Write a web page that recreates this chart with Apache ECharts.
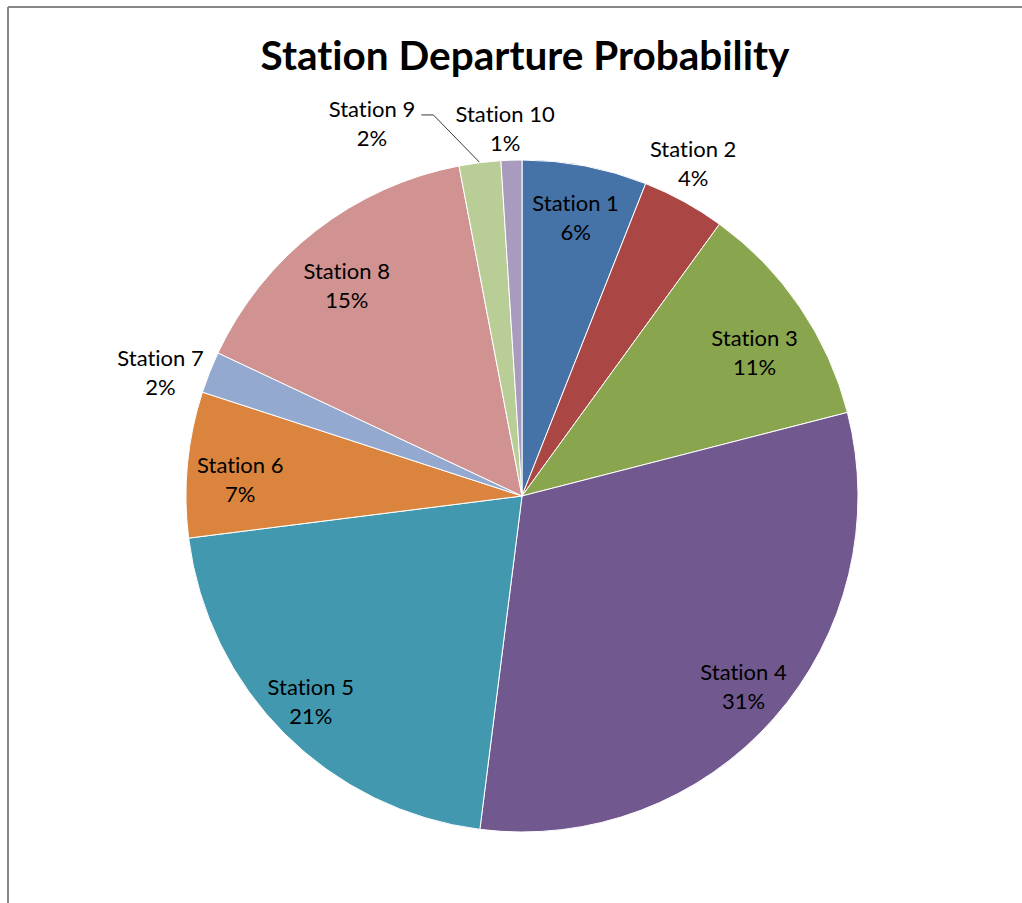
<!DOCTYPE html>
<html>
<head>
<meta charset="utf-8">
<title>Station Departure Probability</title>
<script src="https://cdn.jsdelivr.net/npm/echarts@6/dist/echarts.min.js"></script>
<style>
  html, body { margin: 0; padding: 0; background: #ffffff; }
  #chart { width: 1022px; height: 903px; }
  /* plain "ti" glyphs, no ligature */
  #chart svg text { font-variant-ligatures: none; font-feature-settings: "liga" 0, "clig" 0; }
</style>
</head>
<body>
<div id="chart"></div>
<script>
// Share of departures per station (percent)
const stations = ['Station 1', 'Station 2', 'Station 3', 'Station 4', 'Station 5',
                  'Station 6', 'Station 7', 'Station 8', 'Station 9', 'Station 10'];
const shares = [6, 4, 11, 31, 21, 7, 2, 15, 2, 1];
const sliceColors = ['#4572A7', '#AA4643', '#89A54E', '#71588F', '#4198AF',
                     '#DB843D', '#93A9CF', '#D19392', '#B9CD96', '#A99BBD'];
// Which labels sit inside the pie, which outside, and which uses a leader line
const innerLabelStations = ['Station 1', 'Station 3', 'Station 4', 'Station 5', 'Station 6', 'Station 8'];
const outerLabelStations = ['Station 2', 'Station 7', 'Station 10'];
const leaderLabelStations = ['Station 9'];
// Small best-fit nudges for individual labels, in pixels [dx, dy]
const labelNudge = {
  'Station 1': [0, 2], 'Station 2': [-11, -2], 'Station 3': [-4, 17],
  'Station 4': [7, 1], 'Station 5': [-9, 3], 'Station 6': [3, 10],
  'Station 7': [-10, 15], 'Station 8': [0, 15], 'Station 9': [-41, -4],
  'Station 10': [-5, 10]
};

const FONT = 'Lato, Carlito, Calibri, "Open Sans", sans-serif';
const CENTER = [522, 496];
const R = 336;

const labelText = p => p.name + '\n' + p.value + '%';
const labelStyle = {
  color: '#000000',
  fontFamily: FONT,
  fontSize: 22,
  lineHeight: 29,
  align: 'center'
};

// Shift a label by its nudge; a leader-line label is re-centred and gets a line
// running from the slice rim diagonally to a short horizontal tail.
const placeLabel = params => {
  const name = stations[params.dataIndex];
  const n = labelNudge[name] || [0, 0];
  if (leaderLabelStations.includes(name) && params.labelLinePoints) {
    const r = params.labelRect;
    const tailEnd = r.x + r.width + n[0] + 6;
    const tailY = r.y + n[1] + 21;
    const rim = params.labelLinePoints[0];
    return {
      x: r.x + r.width / 2 + n[0],
      dy: n[1],
      align: 'center',
      labelLinePoints: [rim, [tailEnd + 12, tailY], [tailEnd, tailY]]
    };
  }
  return { dx: n[0], dy: n[1] };
};

// Invisible copies of the pie whose 'inside' label anchor lands at the wanted radius
function labelRing(radius, names) {
  return {
    type: 'pie',
    silent: true,
    center: CENTER,
    radius: [0, radius],
    startAngle: 90,
    clockwise: true,
    animation: false,
    avoidLabelOverlap: false,
    z: 5,
    itemStyle: { color: 'rgba(0,0,0,0)', borderWidth: 0 },
    labelLine: { show: false },
    labelLayout: placeLabel,
    data: stations.map((name, i) => ({
      name,
      value: shares[i],
      label: {
        show: names.includes(name),
        position: 'inside',
        formatter: labelText,
        ...labelStyle
      }
    }))
  };
}

const chart = echarts.init(document.getElementById('chart'), null, { renderer: 'svg' });

chart.setOption({
  backgroundColor: '#ffffff',
  animation: false,
  title: {
    text: 'Station Departure Probability',
    left: 520,
    top: 29,
    textAlign: 'center',
    textStyle: {
      fontFamily: FONT,
      fontWeight: 'bold',
      fontSize: 40.5,
      color: '#000000'
    }
  },
  graphic: [
    { type: 'line', shape: { x1: 8, y1: 7, x2: 1022, y2: 7 },
      style: { stroke: '#878787', lineWidth: 2 }, silent: true },
    { type: 'line', shape: { x1: 8, y1: 7, x2: 8, y2: 903 },
      style: { stroke: '#878787', lineWidth: 2 }, silent: true }
  ],
  series: [
    {
      type: 'pie',
      center: CENTER,
      radius: [0, R],
      startAngle: 90,
      clockwise: true,
      avoidLabelOverlap: false,
      z: 2,
      itemStyle: { borderColor: '#ffffff', borderWidth: 1 },
      emphasis: { disabled: true },
      labelLayout: placeLabel,
      data: stations.map((name, i) => ({
        name,
        value: shares[i],
        itemStyle: { color: sliceColors[i] },
        label: {
          show: leaderLabelStations.includes(name),
          position: 'outside',
          formatter: labelText,
          ...labelStyle
        },
        labelLine: {
          show: leaderLabelStations.includes(name),
          length: 36,
          length2: 14,
          lineStyle: { color: '#3a3a3a', width: 1 }
        }
      }))
    },
    labelRing(2 * 283, innerLabelStations),
    labelRing(2 * 375, outerLabelStations)
  ]
});
</script>
</body>
</html>
